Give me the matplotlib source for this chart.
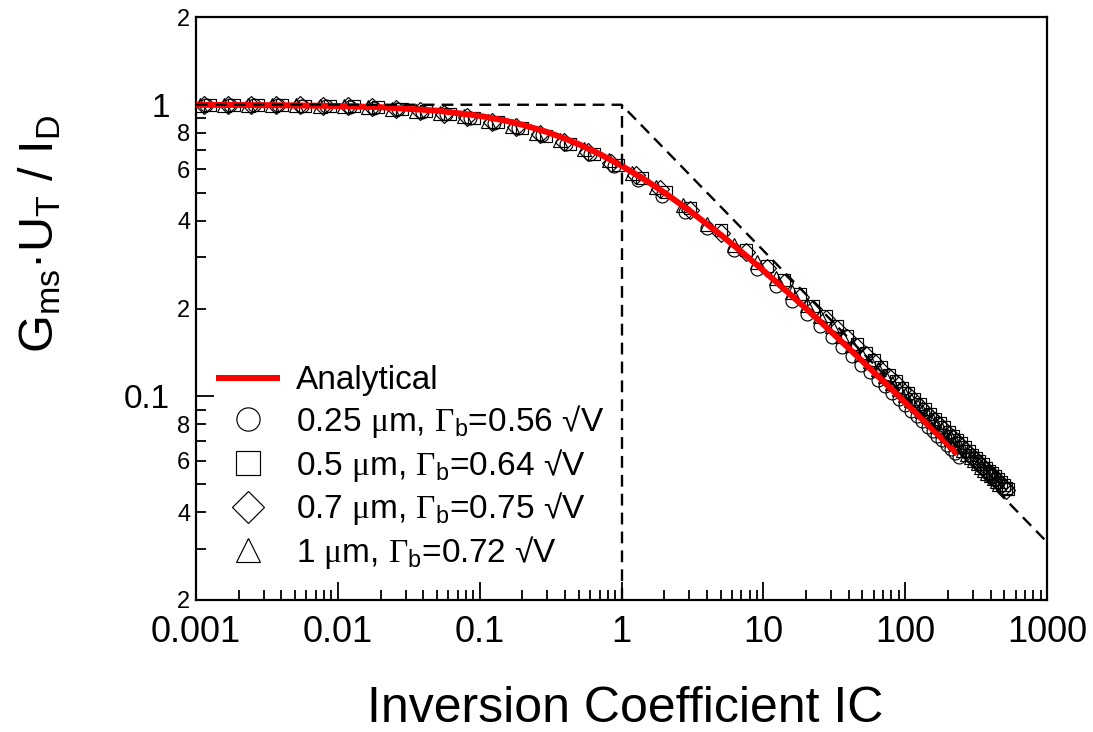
import matplotlib
matplotlib.use("Agg")
import matplotlib.pyplot as plt
from matplotlib.ticker import FixedLocator, FixedFormatter, NullFormatter

plt.rcParams['font.family'] = ['Liberation Sans', 'DejaVu Sans']
plt.rcParams['mathtext.fontset'] = 'custom'
plt.rcParams['mathtext.rm'] = 'Liberation Sans'
plt.rcParams['mathtext.it'] = 'Liberation Sans:italic'
plt.rcParams['mathtext.bf'] = 'Liberation Serif'

# ---------------- data ----------------
ic_analytical = [0.001, 0.002, 0.005, 0.01, 0.02, 0.05, 0.1, 0.15, 0.2, 0.3, 0.4, 0.5, 0.7,
                 1, 1.5, 2, 3, 5, 7, 10, 20, 30, 50, 70, 100, 150, 200, 233]
y_analytical = [0.999, 0.998, 0.995, 0.990, 0.981, 0.9545, 0.916, 0.8831, 0.854, 0.8054, 0.7656,
                0.732, 0.678, 0.618, 0.5486, 0.500, 0.4342, 0.3583, 0.3132, 0.2702, 0.200,
                0.1667, 0.1318, 0.1126, 0.0951, 0.0784, 0.0683, 0.0634]

ic_025 = [0.00118, 0.00174, 0.00257, 0.0038, 0.0056, 0.0083, 0.0122, 0.0181, 0.0267, 0.0394,
          0.058, 0.086, 0.127, 0.187, 0.276, 0.408, 0.60, 0.89, 1.31, 1.94, 2.8,
          4.0, 6.25, 9.0, 12.25, 16.0, 20.25, 25.0, 30.25, 36.0, 42.25, 49.0, 56.25, 64.0,
          72.25, 81.0, 90.25, 100.0, 110.25, 121.0, 132.25, 144.0, 156.25, 169.0, 182.25,
          196.0, 210.25, 225.0, 240.25]
y_025 = [0.999, 0.998, 0.997, 0.996, 0.994, 0.992, 0.986, 0.978, 0.964, 0.948,
         0.927, 0.900, 0.867, 0.831, 0.785, 0.734, 0.676, 0.614, 0.552, 0.487, 0.4296,
         0.3765, 0.3164, 0.2725, 0.2391, 0.2130, 0.1919, 0.1747, 0.1602, 0.1480, 0.1375,
         0.1283, 0.1210, 0.1139, 0.1081, 0.1025, 0.0979, 0.0932, 0.0890, 0.0856, 0.0821,
         0.0787, 0.0761, 0.0733, 0.0707, 0.0682, 0.0659, 0.0639, 0.0619]

ic_05 = [0.00125, 0.00185, 0.00273, 0.00403, 0.0059, 0.0088, 0.0130, 0.0192, 0.0283, 0.0418,
         0.0617, 0.091, 0.134, 0.199, 0.293, 0.433, 0.64, 0.94, 1.39, 2.05,
         3.06, 5.06, 7.56, 10.56, 14.06, 18.06, 22.56, 27.56, 33.06, 39.06, 45.56, 52.56,
         60.06, 68.06, 76.56, 85.56, 95.06, 105.06, 115.56, 126.56, 138.06, 150.06, 162.56,
         175.56, 189.06, 203.06, 217.56, 232.56, 248.06, 264.06, 280.56, 297.56, 315.06,
         333.06, 351.56, 370.56, 390.06, 410.06, 430.56, 451.56, 473.06, 495.06, 517.56, 533.6]
y_05 = [0.999, 0.998, 0.997, 0.996, 0.994, 0.991, 0.987, 0.981, 0.966, 0.950,
        0.929, 0.904, 0.870, 0.829, 0.783, 0.733, 0.680, 0.622, 0.562, 0.501,
        0.4437, 0.3707, 0.3186, 0.2798, 0.2498, 0.2249, 0.2047, 0.1879, 0.1739, 0.1610,
        0.1507, 0.1409, 0.1331, 0.1255, 0.1187, 0.1126, 0.1071, 0.1027, 0.0981, 0.0939,
        0.0906, 0.0870, 0.0837, 0.0807, 0.0782, 0.0756, 0.0730, 0.0708, 0.0689, 0.0669,
        0.0648, 0.0631, 0.0614, 0.0600, 0.0584, 0.0569, 0.0556, 0.0545, 0.0531, 0.0520,
        0.0507, 0.0496, 0.0486, 0.0479]

ic_07 = [0.00113, 0.00167, 0.00246, 0.00364, 0.0054, 0.0079, 0.0117, 0.0173, 0.0256, 0.0378,
         0.0558, 0.082, 0.122, 0.180, 0.265, 0.392, 0.58, 0.85, 1.26, 1.86,
         3.06, 5.06, 7.56, 10.56, 14.06, 18.06, 22.56, 27.56, 33.06, 39.06, 45.56, 52.56,
         60.06, 68.06, 76.56, 85.56, 95.06, 105.06, 115.56, 126.56, 138.06, 150.06, 162.56,
         175.56, 189.06, 203.06, 217.56, 232.56, 248.06, 264.06, 280.56, 297.56, 315.06,
         333.06, 351.56, 370.56, 390.06, 410.06, 430.56, 451.56, 473.06, 495.06, 517.56]
y_07 = [0.999, 0.998, 0.997, 0.996, 0.995, 0.992, 0.987, 0.980, 0.968, 0.952,
        0.933, 0.907, 0.876, 0.839, 0.795, 0.745, 0.690, 0.632, 0.574, 0.513,
        0.4351, 0.3635, 0.3125, 0.2746, 0.2440, 0.2197, 0.1999, 0.1836, 0.1699, 0.1580,
        0.1472, 0.1384, 0.1307, 0.1232, 0.1165, 0.1106, 0.1052, 0.1008, 0.0963, 0.0922,
        0.0885, 0.0851, 0.0822, 0.0792, 0.0764, 0.0739, 0.0717, 0.0695, 0.0673, 0.0654,
        0.0634, 0.0619, 0.0603, 0.0586, 0.0571, 0.0557, 0.0543, 0.0535, 0.0522, 0.0511,
        0.0498, 0.0487, 0.0477]

ic_1 = [0.00107, 0.00158, 0.00233, 0.00344, 0.0051, 0.0075, 0.0111, 0.0164, 0.0242, 0.0357,
        0.0527, 0.078, 0.115, 0.170, 0.251, 0.370, 0.546, 0.81, 1.19, 1.76, 2.7,
        4.0, 6.25, 9.0, 12.25, 16.0, 20.25, 25.0, 30.25, 36.0, 42.25, 49.0, 56.25, 64.0,
        72.25, 81.0, 90.25, 100.0, 110.25, 121.0, 132.25, 144.0, 156.25, 169.0, 182.25,
        196.0, 210.25, 225.0, 240.25, 256.0, 272.25, 289.0, 306.25, 324.0, 342.25, 361.0,
        380.25, 400.0, 420.25, 441.0, 462.25]
y_1 = [0.999, 0.998, 0.998, 0.997, 0.995, 0.993, 0.989, 0.982, 0.970, 0.955,
       0.937, 0.912, 0.880, 0.845, 0.803, 0.755, 0.704, 0.644, 0.585, 0.521, 0.452,
       0.3902, 0.3312, 0.2880, 0.2540, 0.2273, 0.2059, 0.1882, 0.1735, 0.1611, 0.1496,
       0.1397, 0.1322, 0.1244, 0.1176, 0.1114, 0.1059, 0.1008, 0.0972, 0.0930, 0.0891,
       0.0855, 0.0823, 0.0792, 0.0764, 0.0737, 0.0719, 0.0697, 0.0675, 0.0654, 0.0635,
       0.0617, 0.0605, 0.0589, 0.0573, 0.0559, 0.0545, 0.0537, 0.0524, 0.0512, 0.0499]

asym_ic = [0.001, 1, 1000]
asym_y = [1, 1, 0.0316]
vline_ic = [1, 1]
vline_y = [0.02, 1]

labels = ["Analytical",
          r"0.25 $\mathbf{\mu}$m, $\mathbf{\Gamma}_{\mathrm{b}}$=0.56 √V",
          r"0.5 $\mathbf{\mu}$m, $\mathbf{\Gamma}_{\mathrm{b}}$=0.64 √V",
          r"0.7 $\mathbf{\mu}$m, $\mathbf{\Gamma}_{\mathrm{b}}$=0.75 √V",
          r"1 $\mathbf{\mu}$m, $\mathbf{\Gamma}_{\mathrm{b}}$=0.72 √V"]

xtick_vals = [0.001, 0.01, 0.1, 1, 10, 100, 1000]
xtick_labels = ["0.001", "0.01", "0.1", "1", "10", "100", "1000"]
ytick_major = [0.1, 1]
ytick_major_labels = ["0.1", "1"]
ytick_minor = [0.02, 0.03, 0.04, 0.05, 0.06, 0.07, 0.08, 0.09,
               0.2, 0.3, 0.4, 0.5, 0.6, 0.7, 0.8, 0.9, 2]
ytick_minor_labels = ["2", "", "4", "", "6", "", "8", "",
                      "2", "", "4", "", "6", "", "8", "", "2"]

# ---------------- figure ----------------
W, H = 1093, 732
fig = plt.figure(figsize=(W / 100, H / 100), dpi=100)
ax = fig.add_axes([196 / W, 1 - 600 / H, 851 / W, 583 / H])
ax.set_xscale('log')
ax.set_yscale('log')
ax.set_xlim(0.001, 1000)
ax.set_ylim(0.02, 2)

ms = 9.3
mew = 0.85
series = [(ic_025, y_025, 'o', 1.0), (ic_05, y_05, 's', 1.0),
          (ic_07, y_07, 'D', 0.95), (ic_1, y_1, '^', 1.05)]
handles = []
for xs, ys, mk, f in series:
    h, = ax.plot(xs, ys, linestyle='none', marker=mk, markersize=ms * f, mfc='none',
                 mec='black', mew=mew, zorder=2)
    handles.append(h)

hr, = ax.plot(ic_analytical, y_analytical, color='#ff0000', lw=4.3, zorder=3,
              solid_capstyle='butt')
ax.plot(asym_ic, asym_y, color='black', lw=1.7, linestyle=(0, (5, 3)), zorder=4)
ax.plot(vline_ic, vline_y, color='black', lw=1.7, linestyle=(0, (5, 3)), zorder=4)

# ticks
ax.xaxis.set_major_locator(FixedLocator(xtick_vals))
ax.xaxis.set_major_formatter(FixedFormatter(xtick_labels))
ax.xaxis.set_minor_locator(FixedLocator([m * d for d in [0.001, 0.01, 0.1, 1, 10, 100]
                                         for m in range(2, 10)]))
ax.xaxis.set_minor_formatter(NullFormatter())
ax.yaxis.set_major_locator(FixedLocator(ytick_major))
ax.yaxis.set_major_formatter(FixedFormatter(ytick_major_labels))
ax.yaxis.set_minor_locator(FixedLocator(ytick_minor))
ax.yaxis.set_minor_formatter(FixedFormatter(ytick_minor_labels))

ax.tick_params(axis='both', which='both', direction='in', top=False, right=False,
               width=1.3, colors='black')
ax.tick_params(axis='x', which='major', length=13, labelsize=26, pad=11)
ax.tick_params(axis='x', which='minor', length=7)
ax.tick_params(axis='y', which='major', length=13, labelsize=24, pad=19)
ax.tick_params(axis='y', which='minor', length=7, labelsize=17, pad=4)

for sp in ax.spines.values():
    sp.set_linewidth(1.6)

# axis labels
fig.text(625 / W, 0.014, "Inversion Coefficient IC", fontsize=36, ha='center',
         va='baseline')
fig.text(40 / W, 1 - 234 / H, r"G$_{\mathrm{ms}}$·U$_{\mathrm{T}}$ / I$_{\mathrm{D}}$",
         fontsize=35, rotation=90, ha='center', va='center')

leg = ax.legend([hr] + handles, labels, loc='lower left', bbox_to_anchor=(0.024, 0.05),
                frameon=False, fontsize=24, handlelength=1.9, handletextpad=0.5,
                labelspacing=0.2, borderpad=0, borderaxespad=0, markerscale=1.8)

fig.savefig("out.png", dpi=100)
